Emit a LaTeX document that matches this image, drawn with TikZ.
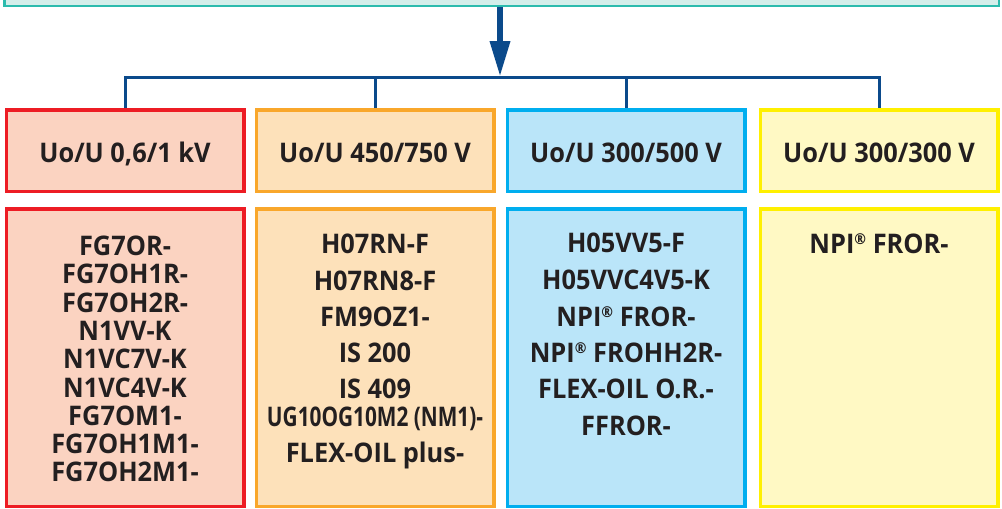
\documentclass[tikz,border=0pt]{standalone}
\usepackage{fontspec}
\setmainfont{Open Sans}[FakeStretch=0.94]
\usepackage{graphicx}
\usetikzlibrary{arrows.meta}
\definecolor{tealb}{HTML}{2CBBAD}
\definecolor{tealf}{HTML}{D4EEEA}
\definecolor{navy}{HTML}{0B4A8B}
\definecolor{redb}{HTML}{ED1C24}
\definecolor{redf}{HTML}{FBD3C1}
\definecolor{orb}{HTML}{F9A72B}
\definecolor{orf}{HTML}{FDE1BA}
\definecolor{blb}{HTML}{00AEEF}
\definecolor{blf}{HTML}{BAE5F9}
\definecolor{yeb}{HTML}{FFF000}
\definecolor{yef}{HTML}{FFF9C4}
\definecolor{txt}{HTML}{231F20}
\newcommand\regmark{\raisebox{9pt}{\fontsize{15}{15}\selectfont ®}}
\begin{document}
\begin{tikzpicture}[x=1pt,y=-1pt,
  box/.style={draw, line width=3.5pt, minimum width=237.5pt, inner sep=0pt},
  lab/.style={font=\fontsize{27}{30}\selectfont\bfseries, text=txt, inner sep=0pt},
  hbox/.style={box, lab, minimum height=81.5pt, text height=23pt, text depth=0pt},
  bbox/.style={box, minimum height=297.5pt},
  ln/.style={lab, anchor=base},
  conn/.style={draw=navy, line width=3pt},
]
\useasboundingbox (0,0) rectangle (1002,509);
\clip (0,0) rectangle (1002,509);
\node[draw=tealb, fill=tealf, line width=2.8pt, minimum width=994.5pt, minimum height=36pt, inner sep=0pt] (top) at (501.75,-12) {};
\coordinate (hub) at (500,77);
% headers
\node[hbox, draw=redb, fill=redf] (h1) at (125,150.5) {Uo/U 0,6/1 kV};
\node[hbox, draw=orb, fill=orf] (h2) at (375,150.5) {Uo/U 450/750 V};
\node[hbox, draw=blb, fill=blf] (h3) at (626,150.5) {Uo/U 300/500 V};
\node[hbox, draw=yeb, fill=yef] (h4) at (879,150.5) {Uo/U 300/300 V};
% bodies
\node[bbox, draw=redb, fill=redf] (b1) at (125,357.5) {};
\node[bbox, draw=orb, fill=orf] (b2) at (375,357.5) {};
\node[bbox, draw=blb, fill=blf] (b3) at (626,357.5) {};
\node[bbox, draw=yeb, fill=yef] (b4) at (879,357.5) {};
% connectors
\draw[navy, line width=6.5pt, -{Triangle[length=36pt,width=19pt]}] (hub |- top.south) -- (hub);
\draw[conn] (h1.north) |- (hub) -| (h4.north);
\draw[conn] (h2.north) -- (h2.north |- hub);
\draw[conn] (h3.north) -- (h3.north |- hub);
% texts
\foreach \t [count=\i from 0] in {FG7OR-,FG7OH1R-,FG7OH2R-,N1VV-K,N1VC7V-K,N1VC4V-K,FG7OM1-,FG7OH1M1-,FG7OH2M1-}
  \node[ln] (r\i) at (125,{255.5+28.3*\i}) {\t};
\foreach \t/\y [count=\i] in {H07RN-F/253,H07RN8-F/290,FM9OZ1-/326,IS 200/362,IS 409/398,{\scalebox{0.82}[1]{UG10OG10M2 (NM1)-}}/426,FLEX-OIL plus-/462}
  \node[ln] (o\i) at (375,\y) {\t};
\foreach \t/\y [count=\i] in {H05VV5-F/252.5,H05VVC4V5-K/289,{NPI\regmark\ FROR-}/326,{NPI\regmark\ FROHH2R-}/362,FLEX-OIL O.R.-/398,FFROR-/435}
  \node[ln] (c\i) at (626,\y) {\t};
\node[ln] (y1) at (879,253) {NPI\regmark\ FROR-};
\end{tikzpicture}
\end{document}
